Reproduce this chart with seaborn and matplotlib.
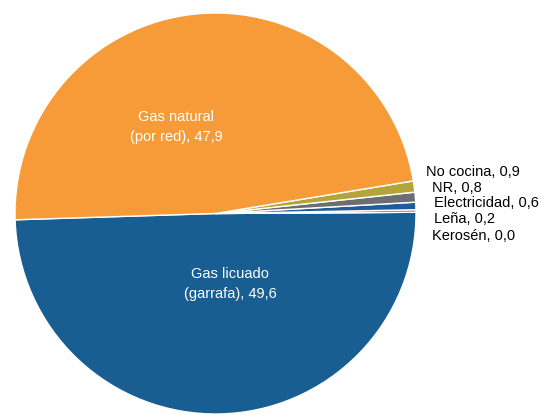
import matplotlib
matplotlib.use("Agg")
import matplotlib.pyplot as plt
import seaborn as sns

# Data (order counterclockwise from licuado)
categories = ['Gas licuado\n(garrafa)', 'Kerosén', 'Leña', 'Electricidad', 'NR', 'No cocina', 'Gas natural\n(por red)']
values = [49.6, 0.0, 0.2, 0.6, 0.8, 0.9, 47.9]
colors = ['#185E92', '#1B3F73', '#D93A45', '#1F5C99', '#6D6E72', '#B3A53A', '#F79B38']

sns.set_theme(style="white")
plt.rcParams['font.family'] = ['Liberation Sans', 'DejaVu Sans']

fig = plt.figure(figsize=(5.41, 4.15), dpi=100)
ax = fig.add_axes([15 / 541, 1 / 415, 401 / 541, 401 / 415])

wedges, _ = ax.pie(values, colors=colors, startangle=181.8, counterclock=True,
                   wedgeprops=dict(edgecolor='white', linewidth=1.0))
ax.set_xlim(-1, 1)
ax.set_ylim(-1, 1)
ax.set_aspect('equal')
ax.axis('off')

def fmt(v):
    return f"{v:.1f}".replace('.', ',')

# big slices: labels inside
ax.text(-0.197, 0.43, f"{categories[6]}, {fmt(values[6])}", color='white', fontsize=10.5,
        ha='center', va='center', linespacing=1.55)
ax.text(0.072, -0.35, f"{categories[0]}, {fmt(values[0])}", color='white', fontsize=10.5,
        ha='center', va='center', linespacing=1.55)

# small slices: labels to the right
small = [5, 4, 3, 2, 1]
xs = [1.05, 1.08, 1.09, 1.09, 1.08]
ys = [0.207, 0.127, 0.052, -0.027, -0.112]
for i, x, y in zip(small, xs, ys):
    ax.text(x, y, f"{categories[i]}, {fmt(values[i])}", color='black', fontsize=10.5,
            ha='left', va='center', clip_on=False)

fig.savefig("out.png", dpi=100)
